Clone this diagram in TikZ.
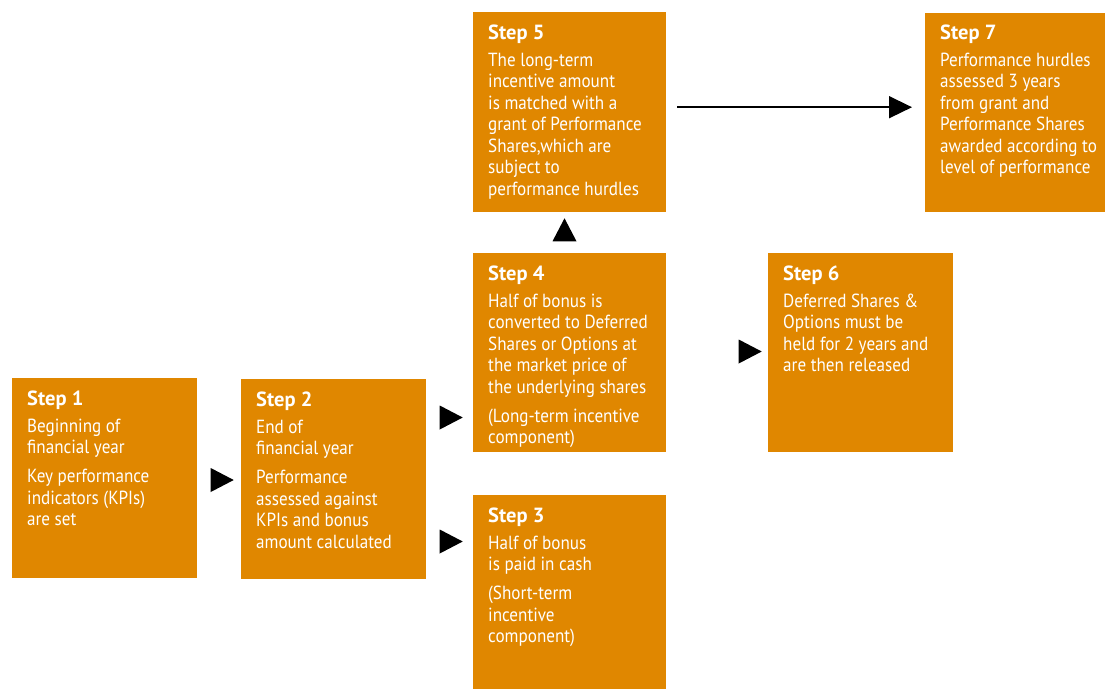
\documentclass[tikz,border=0pt]{standalone}
\usepackage{fontspec}
\newfontfamily\boxfont[FakeStretch=0.9]{PT Sans}
\newfontfamily\titlefont{PT Sans}
\usetikzlibrary{shapes.geometric,arrows.meta}
\definecolor{steporange}{HTML}{E08700}
\tikzset{
  stepbox/.style={fill=steporange, draw=none, inner sep=0pt, anchor=north west},
  steptext/.style={anchor=north west, inner sep=0pt, align=left, text=white,
     font=\boxfont\fontsize{19}{21.5}\selectfont},
  tri/.style={isosceles triangle, isosceles triangle stretches, fill=black, draw=none,
     inner sep=0pt, minimum width=24pt, minimum height=23pt},
}
\newcommand{\stitle}[1]{\strut{\titlefont\bfseries\fontsize{20.5}{21.5}\selectfont #1}\\[5.5pt]}
\begin{document}
\begin{tikzpicture}[x=1pt,y=-1pt]
\useasboundingbox (0,0) rectangle (1105,689);
% boxes
\node[stepbox, minimum width=185pt, minimum height=200pt] (s1) at (12,378) {};
\node[stepbox, minimum width=185pt, minimum height=200pt] (s2) at (241,379) {};
\node[stepbox, minimum width=193pt, minimum height=194pt] (s3) at (473,495) {};
\node[stepbox, minimum width=193pt, minimum height=199pt] (s4) at (473,253) {};
\node[stepbox, minimum width=193pt, minimum height=200pt] (s5) at (473,12) {};
\node[stepbox, minimum width=185pt, minimum height=199pt] (s6) at (768,253) {};
\node[stepbox, minimum width=180pt, minimum height=199pt] (s7) at (925,13) {};
% texts
\node[steptext] (t1) at (27,390) {\stitle{Step 1}Beginning of\\financial year\\[7.5pt]Key performance\\indicators (KPIs)\\are set};
\node[steptext] (t2) at (256,391) {\stitle{Step 2}End of\\financial year\\[7.5pt]Performance\\assessed against\\KPIs and bonus\\amount calculated};
\node[steptext] (t3) at (488,507) {\stitle{Step 3}Half of bonus\\is paid in cash\\[7.5pt](Short-term\\incentive\\component)};
\node[steptext] (t4) at (488,265) {\stitle{Step 4}Half of bonus is\\converted to Deferred\\Shares or Options at\\the market price of\\the underlying shares\\[7.5pt](Long-term incentive\\component)};
\node[steptext] (t5) at (488,24) {\stitle{Step 5}The long-term\\incentive amount\\is matched with a\\grant of Performance\\Shares,which are\\subject to\\performance hurdles};
\node[steptext] (t6) at (783,265) {\stitle{Step 6}Deferred Shares \&\\Options must be\\held for 2 years and\\are then released};
\node[steptext] (t7) at (940,24) {\stitle{Step 7}Performance hurdles\\assessed 3 years\\from grant and\\Performance Shares\\awarded according to\\level of performance};
% triangles
\node[tri] (r12) at (218,480) {};
\node[tri] (r24) at (447,417.5) {};
\node[tri] (r23) at (447,541.5) {};
\node[tri] (r46) at (746,351.5) {};
\node[tri, shape border rotate=90] (u45) at (564.5,234) {};
% arrow
\draw[line width=1.5pt, -{Triangle[length=23pt,width=22pt]}]
  ([shift={(11,-5)}]s5.east) -- ([shift={(-13,-5.5)}]s7.west);
\end{tikzpicture}
\end{document}
